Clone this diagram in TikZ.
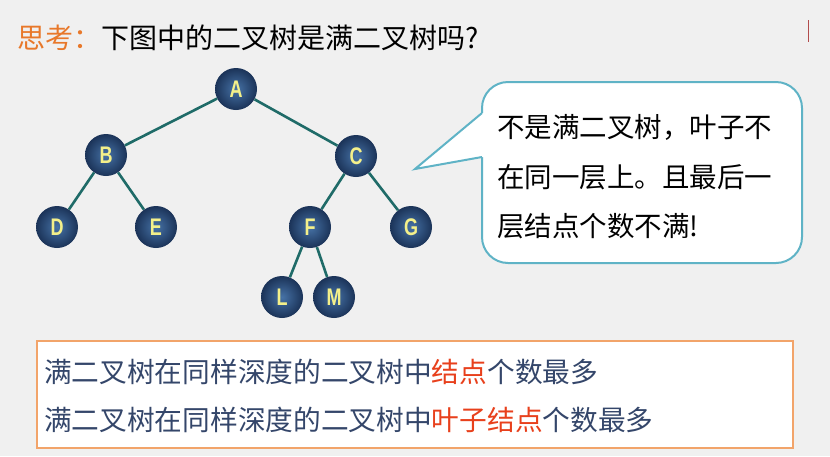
\documentclass[tikz,border=0pt]{standalone}
\usepackage{fontspec}
\setmainfont{Noto Sans CJK SC}
\newfontfamily\cjk{Noto Sans CJK SC}
\newfontfamily\nodefont[FakeStretch=0.75]{Liberation Sans}
\definecolor{bgc}{HTML}{F0F0F0}
\definecolor{edgec}{HTML}{1F6B68}
\definecolor{ballin}{HTML}{4672A6}
\definecolor{ballout}{HTML}{1B3358}
\definecolor{lettc}{HTML}{F4F08A}
\definecolor{bubc}{HTML}{5FB3C6}
\definecolor{orangec}{HTML}{E8782A}
\definecolor{boxc}{HTML}{F2A46A}
\definecolor{bluetext}{HTML}{34466A}
\definecolor{redtext}{HTML}{E8401C}
\tikzset{
  treenode/.style={circle, minimum size=42pt, inner sep=0pt, inner color=ballin, outer color=ballout,
    text=lettc, font=\nodefont\bfseries\fontsize{24}{24}\selectfont},
  treeedge/.style={draw=edgec, line width=2.6pt},
  bubble/.style={draw=bubc, line width=2pt},
}
\begin{document}
\begin{tikzpicture}[x=1pt,y=-1pt]
\useasboundingbox (0,0) rectangle (830,456);
\fill[bgc] (0,0) rectangle (830,456);
% title
\node[anchor=west, inner sep=0pt, font=\fontsize{28}{28}\selectfont] (title) at (17,38)
  {\textcolor{orangec}{思考：}下图中的二叉树是满二叉树吗?};
\draw[draw=red!40!gray, line width=0.8pt] (808,20) coordinate (m1) -- (808,42) coordinate (m2);
% tree
\node[treenode] (A) at (236,89) {A};
\node[treenode] (B) at (106,155) {B};
\node[treenode] (C) at (356,156) {C};
\node[treenode] (D) at (57,227) {D};
\node[treenode] (E) at (156,227) {E};
\node[treenode] (F) at (310,227) {F};
\node[treenode] (G) at (411,227) {G};
\node[treenode] (L) at (282,297) {L};
\node[treenode] (M) at (334,297) {M};
\draw[treeedge] (A) -- (B);
\draw[treeedge] (A) -- (C);
\draw[treeedge] (B) -- (D);
\draw[treeedge] (B) -- (E);
\draw[treeedge] (C) -- (F);
\draw[treeedge] (C) -- (G);
\draw[treeedge] (F) -- (L);
\draw[treeedge] (F) -- (M);
% bubble
\coordinate (tip) at (415,169);
\coordinate (p1) at (482,113);
\coordinate (p2) at (482,157);
\draw[bubble, fill=white, rounded corners=26pt] (482,82) rectangle (802,263);
\fill[white] (tip) -- (p1) -- (486,113) -- (486,157) -- (p2) -- cycle;
\draw[bubble, line join=miter] (p1) -- (tip) -- (p2);
\node[anchor=west, align=left, inner sep=0pt, font=\fontsize{27.5}{49.5}\selectfont] (bubtext) at (497,177)
  {不是满二叉树，叶子不\\在同一层上。且最后一\\层结点个数不满!};
% bottom box
\draw[draw=boxc, line width=1.5pt, fill=white] (37,341) rectangle (793,448);
\node[anchor=west, inner sep=0pt, text=bluetext, font=\fontsize{27.7}{27.7}\selectfont] (l1) at (44,372)
  {满二叉树在同样深度的二叉树中\textcolor{redtext}{结点}个数最多};
\node[anchor=west, inner sep=0pt, text=bluetext, font=\fontsize{27.7}{27.7}\selectfont] (l2) at (44,420)
  {满二叉树在同样深度的二叉树中\textcolor{redtext}{叶子结点}个数最多};
\end{tikzpicture}
\end{document}
